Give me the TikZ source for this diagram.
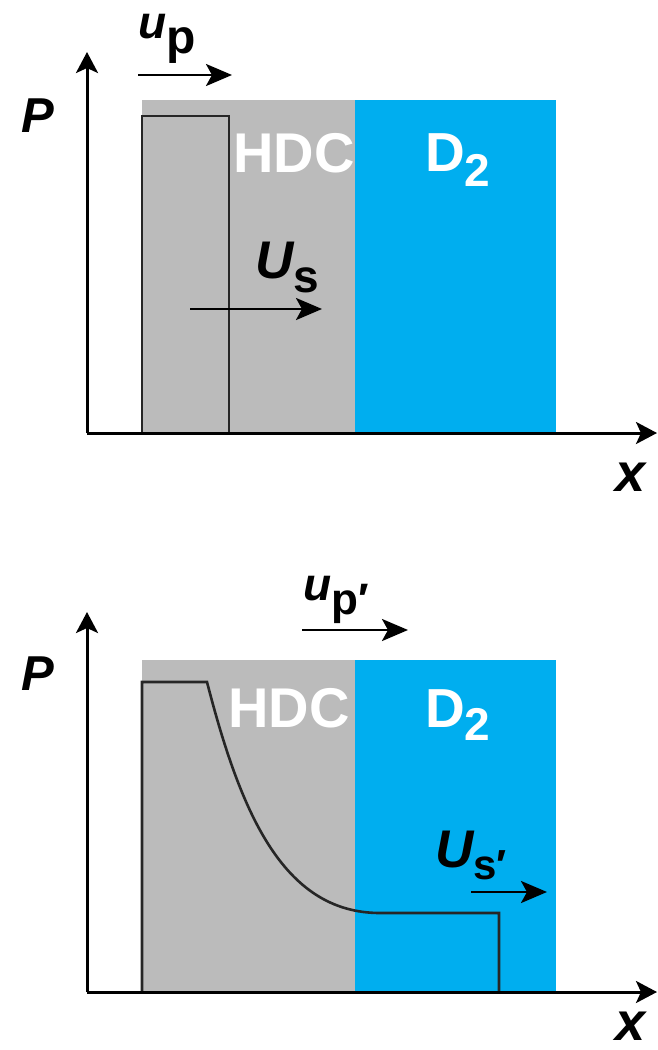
\documentclass[tikz,border=0pt]{standalone}
\usepackage{fontspec}
\setmainfont{Liberation Sans}
\usetikzlibrary{arrows.meta}
\definecolor{hdcgray}{HTML}{BBBBBB}
\definecolor{dtwoblue}{HTML}{00AEEF}

\begin{document}
\begin{tikzpicture}[x=1pt,y=-1pt,
  axis/.style={line width=3pt,-{Stealth[length=21pt,width=22pt,inset=5pt]}},
  vel/.style={line width=2.8pt,-{Stealth[length=26pt,width=22pt,inset=6pt]}},
  prof/.style={line width=2.6pt,draw=black!85,line join=miter},
  lbl/.style={inner sep=0pt,anchor=base west,font=\bfseries\itshape},
  region/.style={inner sep=0pt,text=white,font=\bfseries}]
  \useasboundingbox (0,0) rectangle (657,1050);

  % upper panel: flat pulse just after impact
  \fill[hdcgray] (142,100) rectangle (355,433);
  \fill[dtwoblue] (355,100) rectangle (556,433);
  \draw[prof] (142,433) -- (142,116) -- (229,116) -- (229,433);
  \coordinate (O1) at (87,433);
  \coordinate (Y1) at (87,52);
  \coordinate (X1) at (657,433);
  \draw[axis] (O1) -- (Y1);
  \draw[axis] (O1) -- (X1);
  \node[lbl] (P1) at (21,132) {\fontsize{49}{49}\selectfont P};
  \node[lbl] (x1) at (615,491) {\fontsize{54}{54}\selectfont x};
  \node[region,anchor=base] (hdc1) at (294,172) {\fontsize{56}{56}\selectfont HDC};
  \node[region,anchor=base west] (dd1) at (425,171)
    {\fontsize{55}{55}\selectfont D\raisebox{-15pt}{\fontsize{46}{46}\selectfont 2}};
  % particle and shock velocities
  \node[lbl] (up1) at (138,38)
    {\fontsize{46}{46}\selectfont u\raisebox{-15pt}{\upshape\fontsize{48}{48}\selectfont p}};
  \coordinate (up1a) at (138,75);
  \coordinate (up1b) at (232,75);
  \draw[vel] (up1a) -- (up1b);
  \node[lbl] (us1) at (255,278)
    {\fontsize{53}{53}\selectfont U\raisebox{-14pt}{\upshape\fontsize{46}{46}\selectfont s}};
  \coordinate (us1a) at (190,309);
  \coordinate (us1b) at (322,309);
  \draw[vel] (us1a) -- (us1b);

  % lower panel: decayed pulse entering D2
  \fill[hdcgray] (142,660) rectangle (355,992);
  \fill[dtwoblue] (355,660) rectangle (556,992);
  \draw[prof] (142,992) -- (142,682) -- (207,682)
    .. controls (240,810) and (282,913) .. (380,913) -- (499,913) -- (499,992);
  \coordinate (O2) at (87,992);
  \coordinate (Y2) at (87,612);
  \coordinate (X2) at (657,992);
  \draw[axis] (O2) -- (Y2);
  \draw[axis] (O2) -- (X2);
  \node[lbl] (P2) at (21,690) {\fontsize{49}{49}\selectfont P};
  \node[lbl] (x2) at (615,1040) {\fontsize{54}{54}\selectfont x};
  \node[region,anchor=base] (hdc2) at (289,727) {\fontsize{56}{56}\selectfont HDC};
  \node[region,anchor=base west] (dd2) at (425,727)
    {\fontsize{55}{55}\selectfont D\raisebox{-13pt}{\fontsize{46}{46}\selectfont 2}};
  \node[lbl] (up2) at (303,600)
    {\fontsize{46}{46}\selectfont u\raisebox{-14pt}{\upshape\fontsize{44}{44}\selectfont p′}};
  \coordinate (up2a) at (302,630);
  \coordinate (up2b) at (408,630);
  \draw[vel] (up2a) -- (up2b);
  \node[lbl] (us2) at (435,867)
    {\fontsize{53}{53}\selectfont U\raisebox{-12pt}{\upshape\fontsize{42}{42}\selectfont s′}};
  \coordinate (us2a) at (471,892);
  \coordinate (us2b) at (547,892);
  \draw[vel] (us2a) -- (us2b);
\end{tikzpicture}
\end{document}
